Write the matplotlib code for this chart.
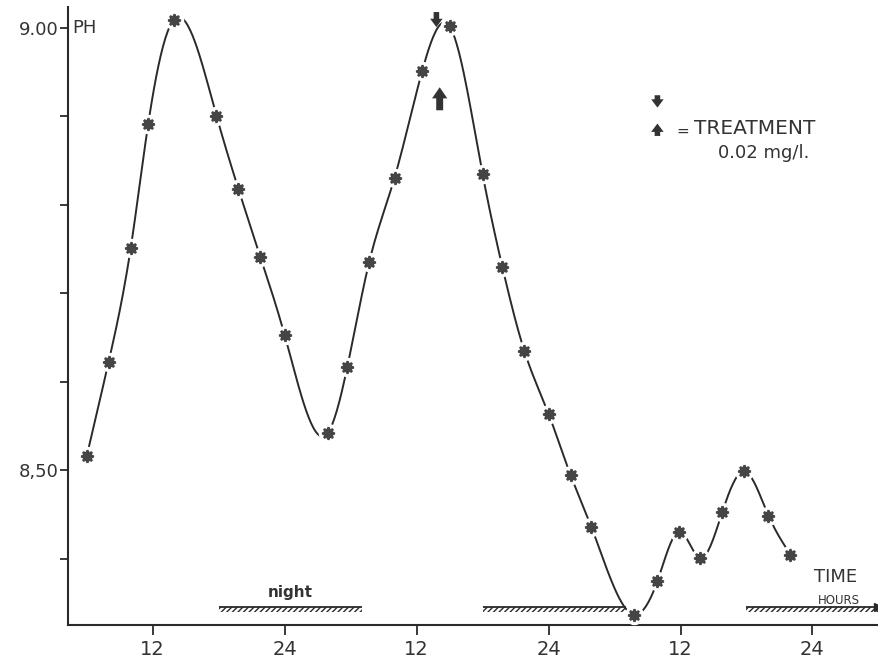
import matplotlib.pyplot as plt
from matplotlib.patches import Rectangle
import numpy as np

# pH readings (time in hours from start of record)
hours = [6, 8, 10, 11.6, 13.9, 17.8, 19.8, 21.8, 24, 27.9, 29.7, 31.7, 34, 36.5, 39,
         42, 43.8, 45.8, 48, 50, 51.9, 55.8, 57.9, 59.9, 61.8, 63.8, 65.8, 68, 70]
ph = [8.516, 8.623, 8.751, 8.892, 9.009, 8.901, 8.818, 8.741, 8.653, 8.542, 8.617,
      8.736, 8.831, 8.951, 9.002, 8.835, 8.730, 8.635, 8.564, 8.495, 8.436, 8.337,
      8.375, 8.431, 8.401, 8.453, 8.499, 8.449, 8.405]

x_ticks = [12, 24, 36, 48, 60, 72]
x_labels = ['12', '24', '12', '24', '12', '24']
y_ticks = [8.4, 8.5, 8.6, 8.7, 8.8, 8.9, 9.0]
y_labels = ['', '8,50', '', '', '', '', '9.00']

night_start = [18, 42, 66]
night_end = [31, 55, 78]
treatment_hour = 38


def natural_spline(x, y, n=600):
    # natural cubic spline through the readings (the hand drawn smooth line)
    x = np.asarray(x, float)
    y = np.asarray(y, float)
    k = len(x)
    h = np.diff(x)
    A = np.zeros((k, k))
    b = np.zeros(k)
    A[0, 0] = A[-1, -1] = 1
    for i in range(1, k - 1):
        A[i, i - 1] = h[i - 1]
        A[i, i] = 2 * (h[i - 1] + h[i])
        A[i, i + 1] = h[i]
        b[i] = 3 * ((y[i + 1] - y[i]) / h[i] - (y[i] - y[i - 1]) / h[i - 1])
    c = np.linalg.solve(A, b)
    bb = (y[1:] - y[:-1]) / h - h * (2 * c[:-1] + c[1:]) / 3
    d = (c[1:] - c[:-1]) / (3 * h)
    xs = np.linspace(x[0], x[-1], n)
    idx = np.clip(np.searchsorted(x, xs) - 1, 0, k - 2)
    dx = xs - x[idx]
    ys = y[idx] + bb[idx] * dx + c[idx] * dx ** 2 + d[idx] * dx ** 3
    return xs, ys


fig = plt.figure(figsize=(8.79, 6.64), dpi=100)
ax = fig.add_axes([68 / 879, 39 / 664, 811 / 879, 618 / 664])
ax.set_xlim(4.3, 78.05)
ax.set_ylim(8.3254, 9.0237)

ink = '#2a2a2a'

# curve + markers (white halo gives the broken line look)
cx, cy = natural_spline(hours, ph)
ax.plot(cx, cy, color=ink, lw=1.4, zorder=2, clip_on=False)
ax.plot(hours, ph, 'o', ms=13, color='white', zorder=3, clip_on=False)
ax.plot(hours, ph, marker=(8, 1, 0), ms=9, color='#454545', mec='#454545', mew=1.6,
        ls='none', zorder=4, clip_on=False)

# night bars
bar_y = 8.3455
for s, e in zip(night_start, night_end):
    ax.add_patch(Rectangle((s, bar_y - 0.0055), e - s, 0.0055, fill=False, hatch='//////',
                           edgecolor=ink, lw=0, clip_on=False))
    ax.plot([s, e], [bar_y, bar_y], color=ink, lw=1.3, clip_on=False, solid_capstyle='butt')
ax.plot([night_end[-1]], [bar_y], marker='>', ms=6, color=ink, clip_on=False)
ax.text((night_start[0] + night_end[0]) / 2, bar_y + 0.008, 'night', ha='center', va='bottom',
        fontsize=11, fontweight='bold', color='#333333')

# treatment arrows
arrow = dict(arrowstyle='simple,head_width=0.9,head_length=0.6,tail_width=0.4',
             fc='#333333', ec='none', shrinkA=0, shrinkB=0)
big_arrow = dict(arrowstyle='simple,head_width=1.1,head_length=0.8,tail_width=0.5',
                 fc='#333333', ec='none', shrinkA=0, shrinkB=0)
ax.annotate('', xy=(treatment_hour - 0.2, 9.001), xytext=(treatment_hour - 0.2, 9.018), arrowprops=arrow,
            annotation_clip=False)
ax.annotate('', xy=(treatment_hour + 0.1, 8.933), xytext=(treatment_hour + 0.1, 8.907), arrowprops=big_arrow)
ax.annotate('', xy=(57.9, 8.910), xytext=(57.9, 8.924), arrowprops=arrow)
ax.annotate('', xy=(57.9, 8.892), xytext=(57.9, 8.878), arrowprops=arrow)

fig.text(676 / 879, 1 - 131 / 664, '=', fontsize=11, va='center', ha='left', color='#333333')
fig.text(694 / 879, 1 - 129 / 664, 'TREATMENT', fontsize=14.5, va='center', ha='left', color='#333333')
fig.text(718 / 879, 1 - 153 / 664, '0.02 mg/l.', fontsize=13, va='center', ha='left', color='#333333')
fig.text(836 / 879, 1 - 577 / 664, 'TIME', fontsize=13, va='center', ha='center', color='#333333')
fig.text(839 / 879, 1 - 601 / 664, 'HOURS', fontsize=8.5, va='center', ha='center', color='#333333')

# axes styling
for side in ['top', 'right']:
    ax.spines[side].set_visible(False)
for side in ['left', 'bottom']:
    ax.spines[side].set_linewidth(1.5)
    ax.spines[side].set_color(ink)

ax.set_xticks(x_ticks)
ax.set_xticklabels(x_labels, fontsize=14, color='#333333')
ax.set_yticks(y_ticks)
ax.set_yticklabels(y_labels, fontsize=13, color='#333333')
ax.tick_params(axis='x', direction='out', length=7, width=1.3, color=ink, pad=4)
ax.tick_params(axis='y', direction='out', length=6, width=1.3, color=ink, pad=1)
ax.annotate('PH', xy=(0, 9.0), xycoords=('axes fraction', 'data'), xytext=(3, 0),
            textcoords='offset points', va='center', ha='left', fontsize=13, color='#333333')

fig.savefig('out.png', dpi=100)
plt.close(fig)
